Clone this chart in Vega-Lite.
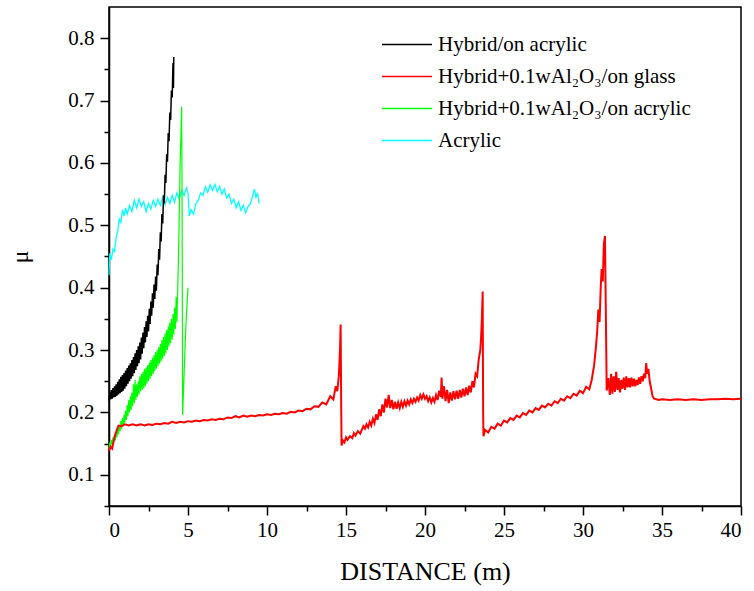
{
  "$schema": "https://vega.github.io/schema/vega-lite/v6.json",
  "width": 632,
  "height": 499,
  "autosize": {"type": "none"},
  "padding": {"left": 109, "top": 7, "right": 13, "bottom": 85},
  "background": "white",
  "config": {
    "view": {"stroke": "black", "strokeWidth": 1.5},
    "font": "'Liberation Serif', 'Times New Roman', 'DejaVu Serif', serif",
    "axis": {
      "grid": false,
      "domainColor": "black",
      "domainWidth": 1.5,
      "tickColor": "black",
      "tickWidth": 1.5,
      "labelColor": "black",
      "titleFontWeight": "normal",
      "titleColor": "black"
    }
  },
  "datasets": {
    "cyan": [
      {"x":0.0,"y":0.42},{"x":0.05,"y":0.455},{"x":0.15,"y":0.445},{"x":0.25,"y":0.462},{"x":0.35,"y":0.458},{"x":0.45,"y":0.48},{"x":0.55,"y":0.49},{"x":0.65,"y":0.51},{"x":0.75,"y":0.505},{"x":0.85,"y":0.525},{"x":0.95,"y":0.515},{"x":1.05,"y":0.528},{"x":1.15,"y":0.518},{"x":1.3,"y":0.532},{"x":1.45,"y":0.522},{"x":1.6,"y":0.54},{"x":1.75,"y":0.528},{"x":1.9,"y":0.542},{"x":2.05,"y":0.53},{"x":2.2,"y":0.538},{"x":2.35,"y":0.522},{"x":2.5,"y":0.535},{"x":2.65,"y":0.526},{"x":2.8,"y":0.54},{"x":2.95,"y":0.53},{"x":3.1,"y":0.542},{"x":3.25,"y":0.532},{"x":3.4,"y":0.545},{"x":3.55,"y":0.533},{"x":3.7,"y":0.545},{"x":3.85,"y":0.535},{"x":4.0,"y":0.548},{"x":4.15,"y":0.537},{"x":4.3,"y":0.552},{"x":4.45,"y":0.542},{"x":4.6,"y":0.556},{"x":4.75,"y":0.548},{"x":4.9,"y":0.56},{"x":5.0,"y":0.552},{"x":5.08,"y":0.515},{"x":5.2,"y":0.525},{"x":5.35,"y":0.518},{"x":5.5,"y":0.535},{"x":5.65,"y":0.54},{"x":5.8,"y":0.552},{"x":5.95,"y":0.548},{"x":6.1,"y":0.562},{"x":6.25,"y":0.553},{"x":6.4,"y":0.565},{"x":6.55,"y":0.556},{"x":6.7,"y":0.566},{"x":6.85,"y":0.554},{"x":7.0,"y":0.562},{"x":7.15,"y":0.55},{"x":7.3,"y":0.558},{"x":7.45,"y":0.544},{"x":7.6,"y":0.55},{"x":7.75,"y":0.535},{"x":7.9,"y":0.542},{"x":8.05,"y":0.528},{"x":8.2,"y":0.538},{"x":8.35,"y":0.524},{"x":8.5,"y":0.532},{"x":8.65,"y":0.52},{"x":8.8,"y":0.53},{"x":8.95,"y":0.535},{"x":9.1,"y":0.548},{"x":9.2,"y":0.558},{"x":9.3,"y":0.545},{"x":9.4,"y":0.552},{"x":9.5,"y":0.535}
    ],
    "black": [
      {"x":0.0,"y":0.219},{"x":0.05,"y":0.233},{"x":0.1,"y":0.221},{"x":0.15,"y":0.236},{"x":0.2,"y":0.222},{"x":0.25,"y":0.239},{"x":0.3,"y":0.224},{"x":0.35,"y":0.242},{"x":0.4,"y":0.225},{"x":0.45,"y":0.245},{"x":0.5,"y":0.227},{"x":0.55,"y":0.249},{"x":0.6,"y":0.229},{"x":0.65,"y":0.253},{"x":0.7,"y":0.231},{"x":0.75,"y":0.257},{"x":0.8,"y":0.233},{"x":0.85,"y":0.26},{"x":0.9,"y":0.235},{"x":0.95,"y":0.263},{"x":1.0,"y":0.238},{"x":1.05,"y":0.267},{"x":1.1,"y":0.242},{"x":1.15,"y":0.271},{"x":1.2,"y":0.246},{"x":1.25,"y":0.275},{"x":1.3,"y":0.25},{"x":1.35,"y":0.279},{"x":1.4,"y":0.254},{"x":1.45,"y":0.284},{"x":1.5,"y":0.258},{"x":1.55,"y":0.289},{"x":1.6,"y":0.263},{"x":1.65,"y":0.295},{"x":1.7,"y":0.268},{"x":1.75,"y":0.3},{"x":1.8,"y":0.274},{"x":1.85,"y":0.306},{"x":1.9,"y":0.279},{"x":1.95,"y":0.312},{"x":2.0,"y":0.285},{"x":2.05,"y":0.32},{"x":2.1,"y":0.294},{"x":2.15,"y":0.328},{"x":2.2,"y":0.303},{"x":2.25,"y":0.337},{"x":2.3,"y":0.312},{"x":2.35,"y":0.346},{"x":2.4,"y":0.321},{"x":2.45,"y":0.355},{"x":2.5,"y":0.33},{"x":2.55,"y":0.366},{"x":2.6,"y":0.342},{"x":2.65,"y":0.378},{"x":2.7,"y":0.355},{"x":2.75,"y":0.391},{"x":2.8,"y":0.368},{"x":2.85,"y":0.405},{"x":2.9,"y":0.382},{"x":2.95,"y":0.418},{"x":3.0,"y":0.395},{"x":3.05,"y":0.437},{"x":3.1,"y":0.42},{"x":3.15,"y":0.462},{"x":3.2,"y":0.445},{"x":3.25,"y":0.489},{"x":3.3,"y":0.474},{"x":3.35,"y":0.518},{"x":3.4,"y":0.503},{"x":3.45,"y":0.548},{"x":3.5,"y":0.535},{"x":3.55,"y":0.581},{"x":3.6,"y":0.568},{"x":3.65,"y":0.614},{"x":3.7,"y":0.602},{"x":3.75,"y":0.648},{"x":3.8,"y":0.635},{"x":3.85,"y":0.681},{"x":3.9,"y":0.669},{"x":3.95,"y":0.716},{"x":4.0,"y":0.705},{"x":4.05,"y":0.76},{"x":4.08,"y":0.72},{"x":4.1,"y":0.77}
    ],
    "green": [
      {"x":0.0,"y":0.142},{"x":0.05,"y":0.152},{"x":0.1,"y":0.146},{"x":0.15,"y":0.156},{"x":0.2,"y":0.149},{"x":0.25,"y":0.16},{"x":0.3,"y":0.152},{"x":0.35,"y":0.164},{"x":0.4,"y":0.155},{"x":0.45,"y":0.169},{"x":0.5,"y":0.16},{"x":0.55,"y":0.175},{"x":0.6,"y":0.165},{"x":0.65,"y":0.18},{"x":0.7,"y":0.17},{"x":0.75,"y":0.186},{"x":0.8,"y":0.174},{"x":0.85,"y":0.191},{"x":0.9,"y":0.178},{"x":0.95,"y":0.196},{"x":1.0,"y":0.183},{"x":1.05,"y":0.203},{"x":1.1,"y":0.188},{"x":1.15,"y":0.212},{"x":1.2,"y":0.194},{"x":1.25,"y":0.22},{"x":1.3,"y":0.2},{"x":1.35,"y":0.226},{"x":1.4,"y":0.204},{"x":1.45,"y":0.232},{"x":1.5,"y":0.21},{"x":1.55,"y":0.245},{"x":1.6,"y":0.215},{"x":1.65,"y":0.252},{"x":1.7,"y":0.22},{"x":1.75,"y":0.245},{"x":1.8,"y":0.225},{"x":1.85,"y":0.25},{"x":1.9,"y":0.229},{"x":1.95,"y":0.258},{"x":2.0,"y":0.234},{"x":2.05,"y":0.262},{"x":2.1,"y":0.236},{"x":2.15,"y":0.265},{"x":2.2,"y":0.239},{"x":2.25,"y":0.27},{"x":2.3,"y":0.242},{"x":2.35,"y":0.272},{"x":2.4,"y":0.246},{"x":2.45,"y":0.276},{"x":2.5,"y":0.25},{"x":2.55,"y":0.28},{"x":2.6,"y":0.254},{"x":2.65,"y":0.284},{"x":2.7,"y":0.258},{"x":2.75,"y":0.288},{"x":2.8,"y":0.262},{"x":2.85,"y":0.292},{"x":2.9,"y":0.266},{"x":2.95,"y":0.297},{"x":3.0,"y":0.27},{"x":3.05,"y":0.3},{"x":3.1,"y":0.274},{"x":3.15,"y":0.305},{"x":3.2,"y":0.278},{"x":3.25,"y":0.31},{"x":3.3,"y":0.282},{"x":3.35,"y":0.316},{"x":3.4,"y":0.286},{"x":3.45,"y":0.321},{"x":3.5,"y":0.29},{"x":3.55,"y":0.327},{"x":3.6,"y":0.295},{"x":3.65,"y":0.332},{"x":3.7,"y":0.3},{"x":3.75,"y":0.338},{"x":3.8,"y":0.306},{"x":3.85,"y":0.344},{"x":3.9,"y":0.311},{"x":3.95,"y":0.35},{"x":4.0,"y":0.317},{"x":4.05,"y":0.358},{"x":4.1,"y":0.325},{"x":4.15,"y":0.368},{"x":4.2,"y":0.334},{"x":4.25,"y":0.385},{"x":4.3,"y":0.345},{"x":4.35,"y":0.4},{"x":4.4,"y":0.45},{"x":4.5,"y":0.6},{"x":4.55,"y":0.64},{"x":4.6,"y":0.69},{"x":4.63,"y":0.5},{"x":4.66,"y":0.196},{"x":4.75,"y":0.26},{"x":4.85,"y":0.33},{"x":4.93,"y":0.37},{"x":5.0,"y":0.4}
    ],
    "red": [
      {"x":0,"y":0.138},{"x":0.1,"y":0.145},{"x":0.2,"y":0.142},{"x":0.3,"y":0.155},{"x":0.4,"y":0.165},{"x":0.5,"y":0.172},{"x":0.6,"y":0.179},{"x":0.8,"y":0.178},{"x":1.0,"y":0.181},{"x":1.25,"y":0.179},{"x":1.5,"y":0.181},{"x":1.75,"y":0.179},{"x":2.0,"y":0.181},{"x":2.25,"y":0.179},{"x":2.5,"y":0.181},{"x":2.75,"y":0.18},{"x":3.0,"y":0.182},{"x":3.25,"y":0.181},{"x":3.5,"y":0.183},{"x":3.75,"y":0.182},{"x":4.0,"y":0.185},{"x":4.25,"y":0.183},{"x":4.5,"y":0.185},{"x":4.75,"y":0.184},{"x":5.0,"y":0.186},{"x":5.25,"y":0.185},{"x":5.5,"y":0.187},{"x":5.75,"y":0.186},{"x":6.0,"y":0.188},{"x":6.25,"y":0.187},{"x":6.5,"y":0.189},{"x":6.75,"y":0.188},{"x":7.0,"y":0.19},{"x":7.25,"y":0.189},{"x":7.5,"y":0.192},{"x":7.75,"y":0.191},{"x":8.0,"y":0.194},{"x":8.25,"y":0.192},{"x":8.5,"y":0.195},{"x":8.75,"y":0.193},{"x":9.0,"y":0.195},{"x":9.25,"y":0.194},{"x":9.5,"y":0.196},{"x":9.75,"y":0.195},{"x":10.0,"y":0.197},{"x":10.25,"y":0.196},{"x":10.5,"y":0.198},{"x":10.75,"y":0.197},{"x":11.0,"y":0.199},{"x":11.25,"y":0.198},{"x":11.5,"y":0.201},{"x":11.75,"y":0.2},{"x":12.0,"y":0.203},{"x":12.25,"y":0.202},{"x":12.5,"y":0.206},{"x":12.75,"y":0.205},{"x":13.0,"y":0.21},{"x":13.25,"y":0.209},{"x":13.5,"y":0.216},{"x":13.75,"y":0.213},{"x":14.0,"y":0.226},{"x":14.2,"y":0.221},{"x":14.35,"y":0.242},{"x":14.45,"y":0.234},{"x":14.55,"y":0.26},{"x":14.62,"y":0.3},{"x":14.66,"y":0.341},{"x":14.7,"y":0.2},{"x":14.72,"y":0.147},{"x":14.8,"y":0.155},{"x":14.9,"y":0.152},{"x":15.0,"y":0.16},{"x":15.1,"y":0.156},{"x":15.25,"y":0.162},{"x":15.4,"y":0.159},{"x":15.5,"y":0.167},{"x":15.6,"y":0.163},{"x":15.75,"y":0.17},{"x":15.9,"y":0.166},{"x":16.0,"y":0.172},{"x":16.1,"y":0.178},{"x":16.2,"y":0.174},{"x":16.3,"y":0.181},{"x":16.4,"y":0.176},{"x":16.5,"y":0.185},{"x":16.6,"y":0.179},{"x":16.7,"y":0.19},{"x":16.8,"y":0.183},{"x":16.9,"y":0.197},{"x":17.0,"y":0.188},{"x":17.1,"y":0.205},{"x":17.2,"y":0.194},{"x":17.3,"y":0.213},{"x":17.4,"y":0.2},{"x":17.5,"y":0.222},{"x":17.6,"y":0.208},{"x":17.7,"y":0.228},{"x":17.8,"y":0.207},{"x":17.9,"y":0.22},{"x":18.0,"y":0.205},{"x":18.1,"y":0.217},{"x":18.2,"y":0.206},{"x":18.3,"y":0.216},{"x":18.4,"y":0.207},{"x":18.5,"y":0.217},{"x":18.6,"y":0.209},{"x":18.7,"y":0.218},{"x":18.8,"y":0.211},{"x":18.9,"y":0.219},{"x":19.0,"y":0.213},{"x":19.1,"y":0.221},{"x":19.2,"y":0.215},{"x":19.3,"y":0.222},{"x":19.4,"y":0.217},{"x":19.5,"y":0.224},{"x":19.6,"y":0.219},{"x":19.7,"y":0.228},{"x":19.8,"y":0.222},{"x":19.9,"y":0.229},{"x":20.0,"y":0.222},{"x":20.1,"y":0.226},{"x":20.2,"y":0.218},{"x":20.3,"y":0.224},{"x":20.4,"y":0.216},{"x":20.5,"y":0.223},{"x":20.6,"y":0.217},{"x":20.7,"y":0.228},{"x":20.8,"y":0.22},{"x":20.9,"y":0.235},{"x":21.0,"y":0.225},{"x":21.05,"y":0.256},{"x":21.1,"y":0.222},{"x":21.2,"y":0.242},{"x":21.3,"y":0.218},{"x":21.4,"y":0.236},{"x":21.5,"y":0.215},{"x":21.6,"y":0.232},{"x":21.7,"y":0.219},{"x":21.8,"y":0.234},{"x":21.9,"y":0.221},{"x":22.0,"y":0.235},{"x":22.1,"y":0.222},{"x":22.2,"y":0.236},{"x":22.3,"y":0.224},{"x":22.4,"y":0.238},{"x":22.5,"y":0.226},{"x":22.6,"y":0.24},{"x":22.7,"y":0.228},{"x":22.8,"y":0.243},{"x":22.9,"y":0.232},{"x":23.0,"y":0.25},{"x":23.1,"y":0.24},{"x":23.2,"y":0.262},{"x":23.3,"y":0.258},{"x":23.4,"y":0.285},{"x":23.5,"y":0.3},{"x":23.55,"y":0.32},{"x":23.6,"y":0.35},{"x":23.65,"y":0.394},{"x":23.68,"y":0.2},{"x":23.7,"y":0.162},{"x":23.8,"y":0.172},{"x":24.0,"y":0.168},{"x":24.2,"y":0.177},{"x":24.4,"y":0.174},{"x":24.6,"y":0.182},{"x":24.8,"y":0.179},{"x":25.0,"y":0.187},{"x":25.2,"y":0.184},{"x":25.4,"y":0.191},{"x":25.6,"y":0.188},{"x":25.8,"y":0.195},{"x":26.0,"y":0.192},{"x":26.2,"y":0.199},{"x":26.4,"y":0.196},{"x":26.6,"y":0.203},{"x":26.8,"y":0.2},{"x":27.0,"y":0.207},{"x":27.2,"y":0.204},{"x":27.4,"y":0.211},{"x":27.6,"y":0.208},{"x":27.8,"y":0.214},{"x":28.0,"y":0.211},{"x":28.2,"y":0.218},{"x":28.4,"y":0.215},{"x":28.6,"y":0.222},{"x":28.8,"y":0.219},{"x":29.0,"y":0.226},{"x":29.2,"y":0.223},{"x":29.4,"y":0.23},{"x":29.6,"y":0.227},{"x":29.8,"y":0.235},{"x":30.0,"y":0.231},{"x":30.2,"y":0.241},{"x":30.4,"y":0.237},{"x":30.55,"y":0.252},{"x":30.7,"y":0.275},{"x":30.8,"y":0.3},{"x":30.9,"y":0.33},{"x":30.97,"y":0.365},{"x":31.05,"y":0.345},{"x":31.12,"y":0.4},{"x":31.18,"y":0.43},{"x":31.25,"y":0.41},{"x":31.32,"y":0.47},{"x":31.39,"y":0.483},{"x":31.45,"y":0.35},{"x":31.5,"y":0.235},{"x":31.6,"y":0.255},{"x":31.7,"y":0.228},{"x":31.78,"y":0.262},{"x":31.86,"y":0.23},{"x":31.94,"y":0.258},{"x":32.02,"y":0.233},{"x":32.1,"y":0.265},{"x":32.18,"y":0.236},{"x":32.26,"y":0.255},{"x":32.34,"y":0.232},{"x":32.42,"y":0.252},{"x":32.5,"y":0.238},{"x":32.58,"y":0.256},{"x":32.66,"y":0.236},{"x":32.74,"y":0.258},{"x":32.82,"y":0.24},{"x":32.9,"y":0.255},{"x":32.98,"y":0.24},{"x":33.06,"y":0.256},{"x":33.14,"y":0.242},{"x":33.22,"y":0.254},{"x":33.3,"y":0.242},{"x":33.38,"y":0.252},{"x":33.46,"y":0.244},{"x":33.54,"y":0.256},{"x":33.62,"y":0.246},{"x":33.7,"y":0.258},{"x":33.78,"y":0.25},{"x":33.86,"y":0.262},{"x":33.94,"y":0.255},{"x":34.0,"y":0.279},{"x":34.06,"y":0.262},{"x":34.14,"y":0.27},{"x":34.22,"y":0.25},{"x":34.3,"y":0.24},{"x":34.4,"y":0.226},{"x":34.5,"y":0.222},{"x":34.8,"y":0.22},{"x":35.0,"y":0.221},{"x":35.5,"y":0.22},{"x":36,"y":0.221},{"x":36.5,"y":0.22},{"x":37,"y":0.221},{"x":37.5,"y":0.22},{"x":38,"y":0.221},{"x":38.5,"y":0.221},{"x":39,"y":0.222},{"x":39.5,"y":0.221},{"x":40,"y":0.222}
    ]
  },
  "encoding": {
    "x": {
      "field": "x",
      "type": "quantitative",
      "title": "DISTANCE (m)",
      "scale": {"domain": [0, 40], "nice": false, "zero": false},
      "axis": {
        "values": [0,2.5,5,7.5,10,12.5,15,17.5,20,22.5,25,27.5,30,32.5,35,37.5,40],
        "format": "~g",
        "labelExpr": "datum.value % 5 === 0 ? datum.label : ''",
        "tickSize": {"condition": {"test": "datum.value % 5 === 0", "value": 9}, "value": 5},
        "labelFont": "'Liberation Serif', 'Times New Roman', 'DejaVu Serif', serif",
        "labelFontSize": 21,
        "labelPadding": 4,
        "titleFont": "'Liberation Serif', 'Times New Roman', 'DejaVu Serif', serif",
        "titleFontSize": 26,
        "titlePadding": 18
      }
    },
    "y": {
      "field": "y",
      "type": "quantitative",
      "title": "μ",
      "scale": {"domain": [0.05, 0.85], "nice": false, "zero": false},
      "axis": {
        "values": [0.05,0.1,0.15,0.2,0.25,0.3,0.35,0.4,0.45,0.5,0.55,0.6,0.65,0.7,0.75,0.8],
        "format": ".1f",
        "labelExpr": "round(datum.value*100) % 10 === 0 ? datum.label : ''",
        "tickSize": {"condition": {"test": "round(datum.value*100) % 10 === 0", "value": 9}, "value": 5},
        "labelFont": "'Liberation Serif', 'Times New Roman', 'DejaVu Serif', serif",
        "labelFontSize": 21,
        "labelPadding": 6,
        "titleFont": "'Liberation Serif', 'Times New Roman', 'DejaVu Serif', serif",
        "titleFontSize": 24,
        "titlePadding": 35
      }
    }
  },
  "layer": [
    {
      "data": {"name": "cyan"},
      "mark": {"type": "line", "strokeWidth": 1.3},
      "encoding": {
        "color": {
          "datum": "Acrylic",
          "type": "nominal",
          "scale": {
            "domain": ["Hybrid/on acrylic", "Hybrid+0.1wAl₂O₃/on glass", "Hybrid+0.1wAl₂O₃/on acrylic", "Acrylic"],
            "range": ["#000000", "#ff0000", "#00ff00", "#00ffff"]
          },
          "legend": {
            "orient": "none",
            "legendX": 272,
            "legendY": 24,
            "title": null,
            "symbolType": "M-1,0H3",
            "symbolSize": 625,
            "symbolStrokeWidth": 1.5,
            "labelFont": "'Liberation Serif', 'Times New Roman', 'DejaVu Serif', serif",
            "labelFontSize": 21,
            "labelColor": "black",
            "labelOffset": 30,
            "labelLimit": 400,
            "rowPadding": 8
          }
        }
      }
    },
    {
      "data": {"name": "black"},
      "mark": {"type": "line", "strokeWidth": 1.5},
      "encoding": {"color": {"datum": "Hybrid/on acrylic", "type": "nominal"}}
    },
    {
      "data": {"name": "green"},
      "mark": {"type": "line", "strokeWidth": 1.2},
      "encoding": {"color": {"datum": "Hybrid+0.1wAl₂O₃/on acrylic", "type": "nominal"}}
    },
    {
      "data": {"name": "red"},
      "mark": {"type": "line", "strokeWidth": 2},
      "encoding": {"color": {"datum": "Hybrid+0.1wAl₂O₃/on glass", "type": "nominal"}}
    }
  ]
}
